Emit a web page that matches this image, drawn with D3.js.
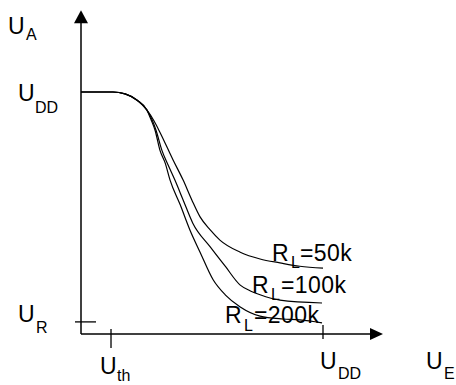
<!DOCTYPE html>
<html><head><meta charset="utf-8">
<script src="https://cdn.jsdelivr.net/npm/d3@7"></script>
<style>
html,body{margin:0;padding:0;background:#fff;}
text{font-family:"Liberation Sans",Arial,sans-serif;fill:#000;}
</style>
</head><body>
<svg id="c" width="456" height="385"></svg>
<script>
// ---- data (volts, UDD = 5) ----
const UDD = 5, UTH = 0.62, UR = 0.25;
const xMax = 6.24, yMax = 6.69;
const seriesLabels = ["=50k", "=100k", "=200k"];
const ue50 = [0, 0.66, 0.91, 1.16, 1.36, 1.51, 1.63, 1.90, 2.11, 2.29, 2.46, 2.67, 2.87, 3.29, 3.70, 4.11, 4.52, 5.00];
const ua50 = [5, 5, 4.96, 4.83, 4.63, 4.40, 4.17, 3.60, 3.18, 2.77, 2.42, 2.15, 1.94, 1.69, 1.55, 1.47, 1.40, 1.36];
const ue100 = [0, 0.66, 0.91, 1.16, 1.36, 1.47, 1.55, 1.67, 1.80, 1.94, 2.11, 2.31, 2.67, 2.98, 3.29, 3.50, 3.70, 4.11, 4.98];
const ua100 = [5, 5, 4.96, 4.83, 4.63, 4.42, 4.21, 3.80, 3.49, 3.18, 2.77, 2.29, 1.80, 1.40, 1.01, 0.89, 0.81, 0.70, 0.64];
const ue200 = [0, 0.66, 0.91, 1.16, 1.36, 1.45, 1.53, 1.63, 1.74, 1.84, 2.05, 2.25, 2.46, 2.73, 2.98, 3.29, 3.70, 4.17, 4.52, 4.98];
const ua200 = [5, 5, 4.96, 4.83, 4.63, 4.42, 4.21, 3.80, 3.53, 3.18, 2.67, 2.15, 1.69, 1.12, 0.81, 0.56, 0.37, 0.31, 0.29, 0.23];

const svg = d3.select("#c");
const x = d3.scaleLinear().domain([0, UDD]).range([81, 323]);
const y = d3.scaleLinear().domain([0, UDD]).range([334, 92]);

// axes
const ax = svg.append("g").attr("stroke", "#000").attr("stroke-width", 1.5);
ax.append("line").attr("x1", x(0)).attr("y1", y(0)).attr("x2", x(xMax) - 8).attr("y2", y(0));
ax.append("line").attr("x1", x(0)).attr("y1", y(0)).attr("x2", x(0)).attr("y2", y(yMax) + 8);
svg.append("path").attr("fill", "#000")
  .attr("d", `M${x(xMax)},${y(0)} L${x(xMax) - 13},${y(0) - 6} L${x(xMax) - 13},${y(0) + 6} Z`);
svg.append("path").attr("fill", "#000")
  .attr("d", `M${x(0)},${y(yMax)} L${x(0) - 7},${y(yMax) + 13} L${x(0) + 7},${y(yMax) + 13} Z`);

// ticks
const tk = svg.append("g").attr("stroke", "#000").attr("stroke-width", 1.3);
tk.append("line").attr("x1", x(0) - 6).attr("x2", x(0) + 15).attr("y1", y(UR)).attr("y2", y(UR));
tk.append("line").attr("x1", x(UTH)).attr("x2", x(UTH)).attr("y1", y(0) - 5).attr("y2", y(0) + 14);
tk.append("line").attr("x1", x(UDD)).attr("x2", x(UDD)).attr("y1", y(0) - 9).attr("y2", y(0) + 5);

// curves
const line = d3.line().x(d => x(d[0])).y(d => y(d[1])).curve(d3.curveMonotoneX);
[[ue50, ua50], [ue100, ua100], [ue200, ua200]].forEach(([ue, ua]) => {
  svg.append("path").datum(ue.map((v, i) => [v, ua[i]]))
    .attr("fill", "none").attr("stroke", "#000").attr("stroke-width", 1.2)
    .attr("d", line);
});

// labels
function lab(mx, mb, main, sx, sb, sub, rest, rx) {
  const g = svg.append("g");
  g.append("text").attr("x", mx).attr("y", mb).attr("font-size", 23).text(main);
  g.append("text").attr("x", sx).attr("y", sb).attr("font-size", 16).text(sub);
  if (rest) g.append("text").attr("x", rx).attr("y", mb).attr("font-size", 23)
    .attr("letter-spacing", 0.4).text(rest);
}
lab(8, 34, "U", 26, 40, "A");
lab(18, 101, "U", 35, 113, "DD");
lab(18, 322, "U", 36, 333, "R");
lab(100, 374, "U", 117, 381, "th");
lab(320, 369, "U", 338, 379, "DD");
lab(426, 369, "U", 444, 379, "E");
lab(272, 261, "R", 291, 268, "L", seriesLabels[0], 300);
lab(252, 293, "R", 271, 300, "L", seriesLabels[1], 281);
lab(225, 323, "R", 244, 331, "L", seriesLabels[2], 254);
</script>
</body></html>
